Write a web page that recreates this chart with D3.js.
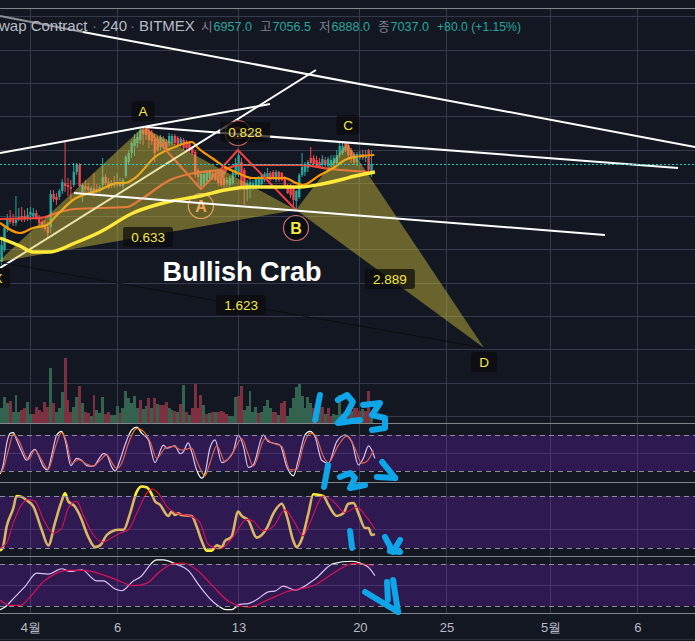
<!DOCTYPE html>
<html>
<head>
<meta charset="utf-8">
<script src="https://cdn.jsdelivr.net/npm/d3@7"></script>
<style>
  html, body { margin: 0; padding: 0; background: #131722; overflow: hidden; }
  svg { display: block; font-family: "Liberation Sans", "Noto Sans CJK KR", sans-serif; }
</style>
</head>
<body>
<svg id="chart" width="695" height="641"></svg>
<script>
// 4h candles
const opens = [6428,6500,6632,6686,6680,6662,6686,6704,6704,6692,
  6710,6704,6722,6692,6668,6650,6638,6638,6836,6818,
  6818,6854,6902,6890,6878,6890,6968,7010,6848,6884,
  6878,6848,6872,6866,6854,6890,6938,6908,6884,6896,
  6890,6902,6884,6944,7028,7082,7124,7142,7160,7220,
  7232,7214,7202,7160,7166,7118,7166,7148,7142,7142,
  7184,7172,7130,7160,7148,7142,7112,7088,6980,6884,
  6896,6914,6932,6962,6962,6950,6938,6932,6902,6890,
  6902,6950,6950,7028,6980,6860,6872,6884,6878,6884,
  6896,6920,6932,6962,6968,6920,6968,6962,6938,6890,
  6890,6872,6794,6818,6950,6968,6992,7052,7052,7040,
  7028,7010,7040,7004,7010,7022,7022,7070,7082,7142,
  7130,7100,7076,7028,7052,7076,7052,7100,6968]
const closes = [6530,6632,6686,6668,6662,6680,6698,6680,6692,6710,
  6728,6722,6686,6662,6638,6626,6602,6836,6806,6800,
  6854,6908,6884,6878,6866,6968,7010,6884,6890,6866,
  6860,6872,6848,6854,6878,6938,6902,6872,6902,6884,
  6902,6884,6920,7058,7082,7142,7166,7178,7220,7196,
  7190,7160,7154,7082,7100,7178,7124,7100,7184,7184,
  7142,7130,7166,7112,7112,7100,7082,6950,6938,6956,
  6956,6968,6968,6938,6920,6902,6890,6890,6920,6932,
  6962,7022,7070,6878,6860,6902,6908,6902,6926,6932,
  6950,6956,6962,6920,6932,6968,6920,6920,6890,6842,
  6830,6800,6854,6950,6998,7016,7028,7022,7016,7004,
  6998,7046,7010,7046,7040,7052,7070,7124,7124,7100,
  7070,7052,7028,7076,7076,7052,7070,6980,7016]
const highs = [6560,6644,6716,6740,6716,6824,6752,6758,6740,6752,
  6758,6752,6740,6710,6692,6680,6668,6860,6860,6842,
  6866,6926,7148,6932,6920,7022,7022,7022,6902,6920,
  6902,6884,6962,6896,6890,7052,6956,6932,6920,6944,
  6962,6932,6932,7070,7100,7154,7196,7208,7232,7232,
  7238,7232,7220,7196,7184,7190,7184,7166,7202,7196,
  7196,7184,7178,7172,7160,7148,7124,7100,6992,6968,
  6968,6980,6980,6974,6974,6962,6950,6944,6938,6944,
  6974,7052,7100,7052,6992,6920,6932,6920,6938,6944,
  6962,6968,6992,6974,6980,6980,6974,6968,6944,6896,
  6896,6878,6860,6962,7082,7028,7040,7118,7070,7064,
  7052,7070,7058,7058,7070,7070,7100,7142,7142,7154,
  7142,7112,7088,7088,7094,7100,7100,7106,7100]
const lows = [6410,6488,6608,6656,6644,6644,6674,6668,6668,6674,
  6680,6686,6680,6644,6626,6614,6572,6602,6788,6770,
  6800,6836,6848,6824,6800,6878,6950,6878,6788,6842,
  6848,6836,6818,6842,6842,6860,6890,6866,6872,6872,
  6878,6878,6866,6932,7010,7052,7064,7112,7136,7130,
  7160,7112,7130,7028,7088,7100,7112,7088,7124,7130,
  7130,7118,7118,7100,7100,7088,7070,6932,6890,6872,
  6884,6896,6920,6920,6914,6884,6878,6872,6878,6878,
  6890,6938,6938,6872,6770,6794,6812,6860,6866,6872,
  6884,6908,6920,6914,6920,6908,6908,6914,6884,6836,
  6812,6758,6740,6806,6938,6944,6968,6998,7010,6992,
  6992,6992,6998,6992,6998,7004,7010,7052,7070,7088,
  7040,7022,7010,7004,7040,7040,7028,6968,6938]

// volume per bar, negative = red bar
const volumes = [45,80,62,-67,35,85,35,-40,-45,65,27,-29,-49,-39,-35,-65,-50,167,-62,35,
  47,95,-197,-69,-35,49,80,-113,62,-35,-32,23,-85,39,32,80,-29,-35,25,25,
  53,-32,45,97,75,62,83,47,-71,42,53,-77,45,-77,59,-55,-55,-65,45,41,
  -37,33,-59,116,-35,25,
  -45,-119,-45,-85,55,-27,31,-35,33,-35,-37,-35,-29,23,23,80,-83,-112,39,52,
  97,35,49,-32,35,52,69,47,-35,-33,25,-62,-67,22,47,77,109,117,82,47,
  80,60,-47,-40,50,-50,27,-45,-22,27,25,85,-27,32,-47,37,-47,-47,-37,42,
  -37,-97,27]

const ma1Bars = [-0.5,6.4,10.9,15.7,19.2,24.7,34.1,40,42.7,46.2,53.1,60,65.9,68,72.8,77.3,81.8,86.7,92.9,98.1,101.9,104.3,110.2,115.4,118.8,122.3,129]
const ma1Vals = [6662,6602,6632,6650,6710,6800,6860,6902,6902,6932,7058,7118,7148,7112,7052,6998,6962,6932,6932,6932,6902,6890,6950,6998,7040,7058,7070]
const ma2Bars = [-0.5,13.3,20.2,25.4,43.4,47.9,58.3,68.7,76.3,82.5,103.3,113.7,128.2]
const ma2Vals = [6686,6692,6728,6746,6758,6800,6920,6968,6980,7010,7010,6986,6968]
const ma3Bars = [-0.5,6.4,10.9,16.8,25.4,34.1,45.5,57.3,68.7,77.3,86,103.3,110.9,117.1,122.3,129.2]
const ma3Vals = [6572,6524,6488,6488,6542,6608,6722,6788,6824,6860,6878,6878,6896,6920,6944,6968]

const k1Bars = [-0.5,0.6,1.8,3,4.1,5.2,7,8.7,10.4,11.6,12.7,14.5,15.9,17.4,19.1,20.8,22,24,26,27.7,29.5,31.8,34.1,35.2,36.4,38.1,39.3,41,42.7,45,46.8,48.5,50.8,53.1,56,57.2,60,61.8,62.9,64.6,65.8,67.5,69.3,70.4,72.1,73.9,76.2,77.9,80.2,81.9,83.7,85.4,87.1,90.6,92.3,96.4,98.7,101,102.7,105,106.7,108.5,110.8,113.1,116,118.9,121.2,123.5,125.2,127,129.2]
const k1Vals = [15,30,66,83,84,72,52,38,52,56,47,27,22,47,80,86,72,29,41,38,29,28,43,49,47,27,20,38,63,88,93,83,72,34,63,58,62,49,52,67,52,22,8,16,58,72,34,38,52,80,61,26,30,80,69,63,27,12,38,80,86,77,38,33,69,80,69,30,41,62,41]
const d1Bars = [-0.5,0.6,2.4,4.1,5.8,9.3,11.6,13.9,16.2,18.5,20.8,22.5,24.3,26.6,28.9,31.8,34.1,36.4,38.7,39.9,41.6,43.9,46.8,49.1,51.4,53.7,56.6,59.5,62.3,65.8,67.5,70.4,72.1,74.5,77.3,80.2,83.1,85.4,87.1,91.2,93.5,97,99.8,102.1,104.4,106.7,108.5,111.4,113.1,116.6,119.4,122.3,124.6,126.4,128.7]
const d1Vals = [17,24,55,81,72,39,55,38,23,58,84,69,33,39,33,28,38,47,30,24,33,66,91,86,69,41,58,61,55,58,38,12,33,62,36,52,74,47,28,74,67,61,22,22,61,83,80,44,34,63,78,58,33,36,54]

const k2Bars = [-0.5,0.4,1.8,4.1,5.2,7,8.7,11,13.9,16.2,18.5,20.8,22,23.1,25.4,27.2,30,32.4,34.1,36.4,38.7,40.4,42.2,44.5,46.8,48.5,50.2,52,53.1,54.8,57.7,58.9,60,61.2,62.3,65.8,67.5,69.3,71,72.7,74.5,76.2,77.3,79.6,81.9,83.1,85.4,88.3,91.8,94.1,97,98.7,101,102.1,103.9,106.2,107.9,111.4,113.1,116,118.3,120,121.8,123.5,125.8,127,128.1,129.2]
const k2Vals = [17,20,45,66,80,79,75,68,41,23,49,74,83,74,68,57,33,21,23,35,40,41,41,60,85,91,90,82,74,70,57,62,58,60,58,57,45,28,17,17,23,21,28,33,62,57,52,32,43,60,71,57,28,21,30,60,82,80,70,57,60,71,72,60,43,43,35,36]
const d2Bars = [-0.5,1.8,4.1,7,9.3,11.6,14.5,17.9,20.8,23.1,26,28.3,31.8,35.2,38.7,41.6,43.9,46.8,50.2,52,54.3,57.2,60.6,65.3,68.7,71.6,75.6,80.2,84.8,87.1,90.6,94.1,98.1,101.5,104.4,106.7,111.4,114.8,118.9,122.9,125.8,129.2]
const d2Vals = [20,26,49,70,76,74,53,37,43,66,74,58,35,27,33,38,41,60,83,88,83,68,60,57,49,24,19,33,53,51,40,45,64,49,34,49,80,74,61,67,58,42]

const k3Bars = [-0.5,1.2,4.1,8.1,12.2,16.2,20.8,23.7,27.7,33,35.2,39.3,41.6,45.6,47.9,53.7,56,60,64.6,68.7,73.3,77.9,79.6,82.5,85.4,88.9,92.3,94.6,97.5,101.5,108.5,114.8,121.2,124.6,127,129.2]
const k3Vals = [14.7,18.5,30.6,47.6,66.9,65.5,73.2,69.3,71.8,55.8,55.8,44.2,41.8,55.8,61.1,85.8,85.8,80.5,70.8,47.6,25.8,14.7,14.7,22.4,23.4,30.6,40.3,41.3,48.5,42.7,58.7,80.5,83.9,80.5,75.2,63.5]
const d3Bars = [-0.5,3,6.4,9.9,14.5,19.1,22.5,28.3,34.1,39.9,45.6,50.2,54.8,59.5,62.9,67.5,73.3,79,85.9,91.8,98.7,109.1,114.8,121.8,128.7]
const d3Vals = [28.2,21,21,33,54.8,66.9,70.8,70.8,66,57.3,49,52.4,69.3,80.5,81.4,71.8,47.6,25.8,18.5,28.2,40.3,51.4,66.9,80.5,78]

const tickBars = [10,40,82,124,154,190,220]
const tickLabels = ['4월','6','13','20','25','5월','6']
const priceTicks = d3.range(5500, 8100, 200)

// harmonic pattern points [bar, price]
const pX = [-1.2,6428], pA = [49,7238], pB = [101.9,6740], pC = [119.6,7142], pD = [167,5912]
const zigzagBars = [50,69,75.6,81.8,101.9]
const zigzagVals = [7232,6866,6980,7100,6740]
const lastPrice = 7014

// drawn trend lines [bar0, price0, bar1, price1]
const trendUnder = [[-0.5,6392,108.8,7580]]
const trendOver = [[28.2,7808,240,7118],[-0.5,7082,92.9,7376],[49.7,7238,234.1,6992],[25.1,6842,208.8,6590]]
const trendGrey = [[-0.5,7904,28.2,7808]]

const tags = [
  { t: 'A', b: 49, p: 7334, w: 23 }, { t: 'C', b: 119.9, p: 7250, w: 23 },
  { t: 'D', b: 167, p: 5828, w: 26 }, { t: 'X', b: -1.2, p: 6332, w: 24 },
  { t: '0.633', b: 50.7, p: 6578, w: 50 }, { t: '0.828', b: 84.3, p: 7208, w: 50 },
  { t: '1.623', b: 82.9, p: 6170, w: 50 }, { t: '2.889', b: 134.4, p: 6326, w: 50 }
]
const ringsUnder = [
  { t: 'A', b: 69, p: 6764, c: '#ff8f80', tc: '#ff8f80' },
  { t: 'B', b: 81.8, p: 7202, c: '#c9605f', tc: '#8f3f3c' }
]
const ringsOver = [{ t: 'B', b: 101.9, p: 6632, c: '#c9706f', tc: '#f5e642' }]

// hand written notes on top of the picture, [bar, price]
const scribbles = [
  [[110.2,5630],[108.5,5480]],
  [[116.4,5600],[119.6,5630],[121.6,5588],[119.6,5522],[116.4,5462],[124,5480]],
  [[125.1,5570],[131,5582],[128.2,5510],[132.7,5492],[132.7,5432],[128.2,5420]],
  [[113,5210],[111.6,5078]],
  [[117.1,5138],[120.6,5162],[122.3,5132],[120.6,5072],[125.8,5090]],
  [[129.9,5138],[136.2,5132]],
  [[131.7,5228],[136.2,5132]],
  [[120.6,4814],[121.3,4712]],
  [[132.7,4778],[135.5,4688],[137.9,4760]],
  [[134.4,4694],[137.9,4688]],
  [[125.8,4448],[137.2,4328]],
  [[135.5,4520],[137.2,4328]],
  [[133.4,4508],[133.7,4400]]
]

const width = 695, height = 641
const svg = d3.select('#chart')
const x = d3.scaleLinear().domain([0, 1]).range([1.5, 4.39])
const y = d3.scaleLinear().domain([7100, 6900]).range([150, 183.33])
const yVol = d3.scaleLinear().domain([0, 137]).range([423.3, 377.6])
const yS1 = d3.scaleLinear().domain([20, 80]).range([471, 435])
const yS2 = d3.scaleLinear().domain([20, 80]).range([548, 496])
const yS3 = d3.scaleLinear().domain([20, 80]).range([606, 564])

const gridCol = '#363a4a'
const sepCol = '#83858c'
const curve = d3.curveMonotoneX

const crisp = v => Math.round(v - .5) + .5

const vLine = (sel, bars) => sel.selectAll(null).data(bars).enter().append('line')
  .attr('x1', d => crisp(x(d))).attr('x2', d => crisp(x(d)))
  .attr('y1', 8).attr('y2', 613)
  .attr('stroke', gridCol)

const hLine = (g, yy, col, dash) => g.append('line')
  .attr('x1', 0).attr('x2', width).attr('y1', crisp(yy)).attr('y2', crisp(yy))
  .attr('stroke', col).attr('stroke-dasharray', dash || null)

const series = (g, scale, bars, vals, col, w) => g.append('path')
  .datum(bars.map((b, i) => [b, vals[i]]))
  .attr('fill', 'none').attr('stroke', col).attr('stroke-width', w)
  .attr('stroke-linejoin', 'round')
  .attr('d', d3.line().x(d => x(d[0])).y(d => scale(d[1])).curve(curve))

// grid
const grid = svg.append('g')
vLine(grid, tickBars)
priceTicks.forEach(p => hLine(grid, y(p), gridCol))
hLine(grid, 453, gridCol); hLine(grid, yS2(41), gridCol); hLine(grid, 585, gridCol)

// volume
svg.append('g').attr('shape-rendering', 'crispEdges')
  .selectAll('rect').data(volumes).enter().append('rect')
  .attr('x', (d, i) => x(i) - 1.45).attr('width', 2.89)
  .attr('y', d => yVol(Math.abs(d)))
  .attr('height', d => yVol(0) - yVol(Math.abs(d)))
  .attr('fill', d => d < 0 ? '#7d3040' : '#33634f')

// candles
const up = '#26a69a', down = '#f0474c'
const candles = svg.append('g').selectAll('g').data(opens).enter().append('g')
  .attr('fill', (d, i) => closes[i] >= d ? up : down)
  .attr('stroke', (d, i) => closes[i] >= d ? up : down)
candles.append('line')
  .attr('x1', (d, i) => x(i)).attr('x2', (d, i) => x(i))
  .attr('y1', (d, i) => y(highs[i])).attr('y2', (d, i) => y(lows[i]))
candles.append('rect')
  .attr('stroke', 'none')
  .attr('x', (d, i) => x(i) - 1.1).attr('width', 2.4)
  .attr('y', (d, i) => y(Math.max(d, closes[i])))
  .attr('height', (d, i) => Math.max(1, Math.abs(y(d) - y(closes[i]))))

// moving averages
const main = svg.append('g')
series(main, y, ma2Bars, ma2Vals, '#f5443c', 2.2)
series(main, y, ma1Bars, ma1Vals, '#ff9800', 2.2)

// the red zigzag and the trend line sit under the pattern fill
main.append('path')
  .attr('fill', 'none').attr('stroke', '#f23f3f').attr('stroke-width', 2)
  .attr('d', d3.line().x((d, i) => x(d)).y((d, i) => y(zigzagVals[i]))(zigzagBars))
main.append('path')
  .attr('d', d3.symbol().type(d3.symbolTriangle).size(60)())
  .attr('transform', 'translate(' + x(76.3) + ',' + y(6962) + ') rotate(180)')
  .attr('fill', '#c9504c')

const drawTrend = (list, col, w) => main.selectAll(null).data(list).enter().append('line')
  .attr('x1', d => x(d[0])).attr('y1', d => y(d[1]))
  .attr('x2', d => x(d[2])).attr('y2', d => y(d[3]))
  .attr('stroke', col).attr('stroke-width', w)
drawTrend(trendUnder, '#ffffff', 2)

const drawRings = list => {
  const g = main.selectAll(null).data(list).enter().append('g')
    .attr('transform', d => 'translate(' + x(d.b) + ',' + y(d.p) + ')')
  g.append('circle').attr('r', 12.5)
    .attr('fill', 'rgba(0,0,0,.4)').attr('stroke', d => d.c).attr('stroke-width', 1.2)
  g.append('text').text(d => d.t)
    .attr('text-anchor', 'middle').attr('dy', 6)
    .attr('font-size', 16).attr('font-weight', 'bold').attr('fill', d => d.tc)
}
drawRings(ringsUnder)

// pattern fill
const pts = d3.line().x(d => x(d[0])).y(d => y(d[1]))
main.selectAll(null).data([[pX, pA, pB], [pB, pC, pD]]).enter().append('path')
  .attr('d', d => pts(d) + 'Z')
  .attr('fill', '#d2c13c').attr('fill-opacity', .45)
main.append('path').attr('d', pts([pX, pD]))
  .attr('stroke', '#0a0a0a').attr('fill', 'none').attr('stroke-width', .8)

series(main, y, ma3Bars, ma3Vals, '#ffe93a', 3.4)
drawTrend(trendGrey, '#8f9199', 2)
drawTrend(trendOver, '#ffffff', 2)
drawRings(ringsOver)

// last price
hLine(main, y(lastPrice), '#1fd0bf', '2,2')

// labels
const tag = main.selectAll(null).data(tags).enter().append('g')
  .attr('transform', d => 'translate(' + x(d.b) + ',' + y(d.p) + ')')
tag.append('rect')
  .attr('x', d => -d.w / 2).attr('y', -10).attr('width', d => d.w).attr('height', 20).attr('rx', 3)
  .attr('fill', '#0b0b0b').attr('fill-opacity', .72)
tag.append('text').text(d => d.t)
  .attr('text-anchor', 'middle').attr('dy', 4.8)
  .attr('font-size', 13.5).attr('fill', '#f5e642')

main.append('text').text('Bullish Crab')
  .attr('x', x(83.2)).attr('y', y(6368)).attr('dy', 9)
  .attr('text-anchor', 'middle').attr('font-size', 27).attr('font-weight', 'bold').attr('fill', '#ffffff')

// header
const head = svg.append('text').attr('y', 31).attr('font-size', 15).attr('fill', '#b8bbc4')
head.append('tspan').attr('x', -1).text('wap Contract')
head.append('tspan').attr('x', 92).attr('fill', '#6f7380').text('·')
head.append('tspan').attr('x', 102).text('240')
head.append('tspan').attr('x', 130).attr('fill', '#6f7380').text('·')
head.append('tspan').attr('x', 139).text('BITMEX')
const quote = [['시', '6957.0', 201], ['고', '7056.5', 260], ['저', '6888.0', 319], ['종', '7037.0', 378]]
const q = svg.append('g').attr('font-size', 12.6)
quote.forEach(d => {
  q.append('text').attr('x', d[2]).attr('y', 31).attr('fill', '#7d808b').text(d[0])
  q.append('text').attr('x', d[2] + 12.5).attr('y', 31).attr('fill', up).text(d[1])
})
q.append('text').attr('x', 437).attr('y', 31).attr('fill', up).attr('font-size', 12.2).text('+80.0 (+1.15%)')

// oscillators, the band goes over the lines
const osc = svg.append('g')
series(osc, yS1, k1Bars, k1Vals, '#ffffff', 1.2)
series(osc, yS1, d1Bars, d1Vals, '#ff7a1e', 1.2)
series(osc, yS2, k2Bars, k2Vals, '#ffeb3b', 2.6)
series(osc, yS2, d2Bars, d2Vals, '#ff0a2a', 1.1)
series(osc, yS3, k3Bars, k3Vals, '#ffffff', 1.2)
series(osc, yS3, d3Bars, d3Vals, '#ff0a2a', 1.2)
;[yS1, yS2, yS3].forEach(s => {
  osc.append('rect').attr('x', 0).attr('width', width)
    .attr('y', s(80)).attr('height', s(20) - s(80))
    .attr('fill', '#7a22d4').attr('fill-opacity', .27)
  hLine(osc, s(80), '#8d8c97', '5,4')
  hLine(osc, s(20), '#8d8c97', '5,4')
})

// pane separators
hLine(svg, 8.5, sepCol); hLine(svg, 423.5, sepCol); hLine(svg, 482.5, sepCol)
hLine(svg, 556.5, sepCol); hLine(svg, 613.5, sepCol); hLine(svg, 639.5, '#2a2e39')

// time axis
const axis = d3.axisBottom(x).tickValues(tickBars).tickSize(0).tickPadding(0)
  .tickFormat((d, i) => tickLabels[i])
const ax = svg.append('g').attr('transform', 'translate(0,623)').call(axis)
ax.select('.domain').remove()
ax.selectAll('text').attr('font-size', 13).attr('font-family', null).attr('fill', '#b8bbc4')

// notes
svg.append('g').selectAll('path').data(scribbles).enter().append('path')
  .attr('d', pts)
  .attr('fill', 'none').attr('stroke', '#0ea5e9').attr('stroke-width', 6)
  .attr('stroke-linecap', 'round').attr('stroke-linejoin', 'round')
</script>
</body>
</html>
